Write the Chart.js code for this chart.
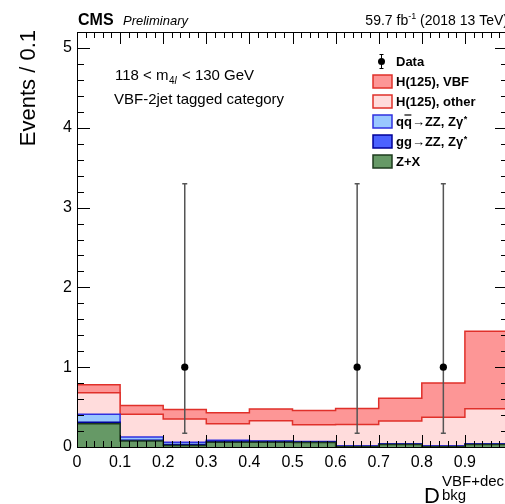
<!DOCTYPE html>
<html>
<head>
<meta charset="utf-8">
<title>VBF-2jet tagged category</title>
<script src="https://cdn.jsdelivr.net/npm/chart.js@4/dist/chart.umd.min.js"></script>
<style>
  html, body { margin: 0; padding: 0; background: #fff; overflow: hidden; }
  #wrap { position: relative; width: 520px; height: 504px; }
</style>
</head>
<body>
<div id="wrap"><canvas id="hist" width="520" height="504"></canvas></div>
<script>
// Binning of the discriminant and per-bin yields (events / 0.1)
const binEdges    = [0, 0.1, 0.2, 0.3, 0.4, 0.5, 0.6, 0.7, 0.8, 0.9, 1.0];
const zxYield     = [0.29, 0.075, 0.02, 0.06, 0.06, 0.055, 0.003, 0.03, 0.004, 0.03];
const ggZZYield   = [0.02, 0.01, 0.01, 0.01, 0.01, 0.008, 0.005, 0.005, 0.004, 0.005];
const qqZZYield   = [0.10, 0.04, 0.03, 0.015, 0.005, 0.005, 0.004, 0.005, 0.004, 0.005];
const hOtherYield = [0.27, 0.285, 0.29, 0.205, 0.255, 0.21, 0.27, 0.285, 0.36, 0.44];
const hVbfYield   = [0.10, 0.11, 0.12, 0.14, 0.145, 0.18, 0.20, 0.285, 0.43, 0.97];

// Observed events with asymmetric Poisson errors
const dataX       = [0.25, 0.65, 0.85];
const dataY       = [1, 1, 1];
const dataErrLow  = [0.827, 0.827, 0.827];
const dataErrHigh = [2.30, 2.30, 2.30];

const xTicks = [0, 0.1, 0.2, 0.3, 0.4, 0.5, 0.6, 0.7, 0.8, 0.9];
const yTicks = [0, 1, 2, 3, 4, 5];

const FONT = "'Liberation Sans', Arial, Helvetica, sans-serif";
Chart.defaults.font.family = FONT;

// stack the components and turn each cumulative sum into a step outline
function stepPoints(values) {
    const pts = [];
    values.forEach((v, i) => {
        pts.push({ x: binEdges[i], y: v });
        pts.push({ x: binEdges[i + 1], y: v });
    });
    return pts;
}
let running = zxYield.map(() => 0);
function stackOn(values) {
    running = running.map((r, i) => r + values[i]);
    return stepPoints(running);
}

const components = [
    { label: 'Z+X',                values: zxYield,     fill: '#669966', line: '#1e3b1e' },
    { label: 'gg\u2192ZZ, Z\u03b3*', values: ggZZYield,   fill: '#4b62ff', line: '#000099' },
    { label: 'qq\u2192ZZ, Z\u03b3*', values: qqZZYield,   fill: '#99c8ff', line: '#3030e0' },
    { label: 'H(125), other',      values: hOtherYield, fill: '#ffdcdc', line: '#e0302a' },
    { label: 'H(125), VBF',        values: hVbfYield,   fill: '#fd9696', line: '#e0302a' }
];

const datasets = components.map((c, i) => ({
    label: c.label,
    data: stackOn(c.values),
    borderColor: c.line,
    backgroundColor: c.fill,
    borderWidth: 1.5,
    pointRadius: 0,
    tension: 0,
    fill: i === 0 ? 'origin' : '-1',
    order: 0
}));

datasets.push({
    label: 'Data',
    data: dataX.map((x, i) => ({ x: x, y: dataY[i] })),
    showLine: false,
    pointRadius: 3.6,
    pointBackgroundColor: '#000',
    pointBorderColor: '#000',
    pointBorderWidth: 0,
    order: -1
});
const DATA_INDEX = datasets.length - 1;

// error bars go under the data markers
const errorBars = {
    id: 'errorBars',
    beforeDatasetDraw(chart, args) {
        if (args.index !== DATA_INDEX) return;
        const { ctx, scales: { x, y } } = chart;
        ctx.save();
        ctx.strokeStyle = '#555';
        ctx.lineWidth = 1.5;
        dataX.forEach((dx, i) => {
            const px = x.getPixelForValue(dx);
            const top = y.getPixelForValue(dataY[i] + dataErrHigh[i]);
            const bot = y.getPixelForValue(dataY[i] - dataErrLow[i]);
            ctx.beginPath();
            ctx.moveTo(px, top); ctx.lineTo(px, bot);
            ctx.moveTo(px - 2.5, top); ctx.lineTo(px + 2.5, top);
            ctx.moveTo(px - 2.5, bot); ctx.lineTo(px + 2.5, bot);
            ctx.stroke();
        });
        ctx.restore();
    }
};

// ROOT-style frame with inward major and minor ticks on all four sides
const frame = {
    id: 'frame',
    afterDatasetsDraw(chart) {
        const { ctx, chartArea: a, scales: { x, y } } = chart;
        ctx.save();
        ctx.strokeStyle = '#000';
        ctx.lineWidth = 1;
        ctx.beginPath();
        ctx.rect(a.left + 0.5, a.top + 0.5, a.right - a.left, a.bottom - a.top);
        ctx.stroke();
        ctx.beginPath();
        for (let k = 0; k <= 50; k++) {
            const px = Math.round(x.getPixelForValue(k * 0.02)) + 0.5;
            const len = k % 5 === 0 ? 12 : 6;
            ctx.moveTo(px, a.bottom); ctx.lineTo(px, a.bottom - len);
            ctx.moveTo(px, a.top); ctx.lineTo(px, a.top + len);
        }
        for (let k = 0; k <= 26; k++) {
            const py = Math.round(y.getPixelForValue(k * 0.2)) + 0.5;
            const len = k % 5 === 0 ? 13 : 7;
            ctx.moveTo(a.left, py); ctx.lineTo(a.left + len, py);
            ctx.moveTo(a.right, py); ctx.lineTo(a.right - len, py);
        }
        ctx.stroke();
        ctx.restore();
    }
};

// titles, labels and legend
const annotations = {
    id: 'annotations',
    afterDraw(chart) {
        const { ctx, chartArea: a } = chart;
        ctx.save();
        ctx.fillStyle = '#000';
        ctx.textBaseline = 'alphabetic';

        // header
        ctx.textAlign = 'left';
        ctx.font = 'bold 16px ' + FONT;
        ctx.fillText('CMS', a.left + 1, 25);
        ctx.font = 'italic 13px ' + FONT;
        ctx.fillText('Preliminary', 123, 25);

        ctx.font = '14px ' + FONT;
        const lumiA = '59.7 fb', lumiB = ' (2018 13 TeV)';
        ctx.font = '9px ' + FONT;
        const supW = ctx.measureText('-1').width;
        ctx.font = '14px ' + FONT;
        const wA = ctx.measureText(lumiA).width, wB = ctx.measureText(lumiB).width;
        let lx = a.right - (wA + supW + wB);
        ctx.fillText(lumiA, lx, 25);
        ctx.font = '9px ' + FONT;
        ctx.fillText('-1', lx + wA, 19);
        ctx.font = '14px ' + FONT;
        ctx.fillText(lumiB, lx + wA + supW, 25);

        // category text
        ctx.font = '15px ' + FONT;
        const t1 = '118 < m';
        ctx.fillText(t1, 115, 80);
        let tx = 115 + ctx.measureText(t1).width + 0.5;
        ctx.font = '10px ' + FONT;
        ctx.fillText('4', tx, 84);
        tx += ctx.measureText('4').width;
        ctx.font = 'italic 10px ' + FONT;
        ctx.fillText('l', tx, 84);
        tx += ctx.measureText('l').width + 1;
        ctx.font = '15px ' + FONT;
        ctx.fillText(' < 130 GeV', tx, 80);
        ctx.fillText('VBF-2jet tagged category', 114, 104);

        // y axis title
        ctx.save();
        ctx.translate(35, 30);
        ctx.rotate(-Math.PI / 2);
        ctx.textAlign = 'right';
        ctx.font = '22px ' + FONT;
        ctx.fillText('Events / 0.1', 0, 0);
        ctx.restore();

        // x axis title D_bkg^{VBF+dec}
        ctx.font = '22px ' + FONT;
        ctx.fillText('D', 424, 503);
        ctx.font = '15px ' + FONT;
        ctx.fillText('VBF+dec', 442, 486);
        ctx.fillText('bkg', 442, 500);

        // legend
        const lx0 = 373, bw = 19, bh = 13, tx0 = 396;
        const rowY = [61.5, 81.5, 101.5, 121.5, 141.5, 161.5];
        ctx.font = 'bold 13px ' + FONT;
        // data entry: marker with error bar
        ctx.strokeStyle = '#000';
        ctx.lineWidth = 1;
        ctx.beginPath();
        ctx.moveTo(381.5, rowY[0] - 7); ctx.lineTo(381.5, rowY[0] + 7);
        ctx.moveTo(379.5, rowY[0] - 7); ctx.lineTo(383.5, rowY[0] - 7);
        ctx.moveTo(379.5, rowY[0] + 7); ctx.lineTo(383.5, rowY[0] + 7);
        ctx.stroke();
        ctx.beginPath();
        ctx.arc(381.5, rowY[0], 3.5, 0, Math.PI * 2);
        ctx.fill();
        ctx.fillText('Data', tx0, rowY[0] + 4.5);

        const order = [4, 3, 2, 1, 0];
        order.forEach((ci, r) => {
            const c = components[ci];
            const cy = rowY[r + 1];
            ctx.fillStyle = c.fill;
            ctx.fillRect(lx0, cy - bh / 2, bw, bh);
            ctx.strokeStyle = c.line;
            ctx.lineWidth = 1.5;
            ctx.strokeRect(lx0, cy - bh / 2, bw, bh);
            ctx.fillStyle = '#000';
            ctx.font = 'bold 13px ' + FONT;
            const base = cy + 4.5;
            if (ci === 2 || ci === 1) {
                // qq-bar / gg prefix, then the rest with a raised asterisk
                const isQQ = ci === 2;
                let px = tx0;
                const q = isQQ ? 'q' : 'g';
                const wq = ctx.measureText(q).width;
                ctx.fillText(q + q, px, base);
                if (isQQ) {
                    ctx.lineWidth = 1.2;
                    ctx.strokeStyle = '#000';
                    ctx.beginPath();
                    ctx.moveTo(px + wq + 0.5, base - 11);
                    ctx.lineTo(px + 2 * wq - 0.5, base - 11);
                    ctx.stroke();
                }
                px += 2 * wq;
                const rest = '\u2192ZZ, Z\u03b3';
                ctx.fillText(rest, px, base);
                px += ctx.measureText(rest).width;
                ctx.font = 'bold 9px ' + FONT;
                ctx.fillText('*', px + 0.5, base - 4);
            } else {
                ctx.fillText(c.label, tx0, base);
            }
        });
        ctx.restore();
    }
};

const ctx = document.getElementById('hist').getContext('2d');
new Chart(ctx, {
    type: 'line',
    data: { datasets: datasets },
    options: {
        responsive: false,
        animation: false,
        events: [],
        layout: { padding: { top: 32, right: 12, left: 0, bottom: 0 } },
        plugins: {
            legend: { display: false },
            tooltip: { enabled: false }
        },
        scales: {
            x: {
                type: 'linear',
                min: 0,
                max: 1,
                grid: { display: false, drawTicks: false },
                border: { display: false },
                afterBuildTicks: s => { s.ticks = xTicks.map(v => ({ value: v })); },
                afterFit: s => { s.height = 57; },
                ticks: {
                    color: '#000',
                    padding: 6,
                    maxRotation: 0,
                    autoSkip: false,
                    font: { size: 16 },
                    callback: v => (v === 0 ? '0' : String(v))
                }
            },
            y: {
                type: 'linear',
                min: 0,
                max: 5.2,
                grid: { display: false, drawTicks: false },
                border: { display: false },
                afterBuildTicks: s => { s.ticks = yTicks.map(v => ({ value: v })); },
                afterFit: s => { s.width = 77; },
                ticks: {
                    color: '#000',
                    padding: 5,
                    font: { size: 16 }
                }
            }
        }
    },
    plugins: [errorBars, frame, annotations]
});
</script>
</body>
</html>
